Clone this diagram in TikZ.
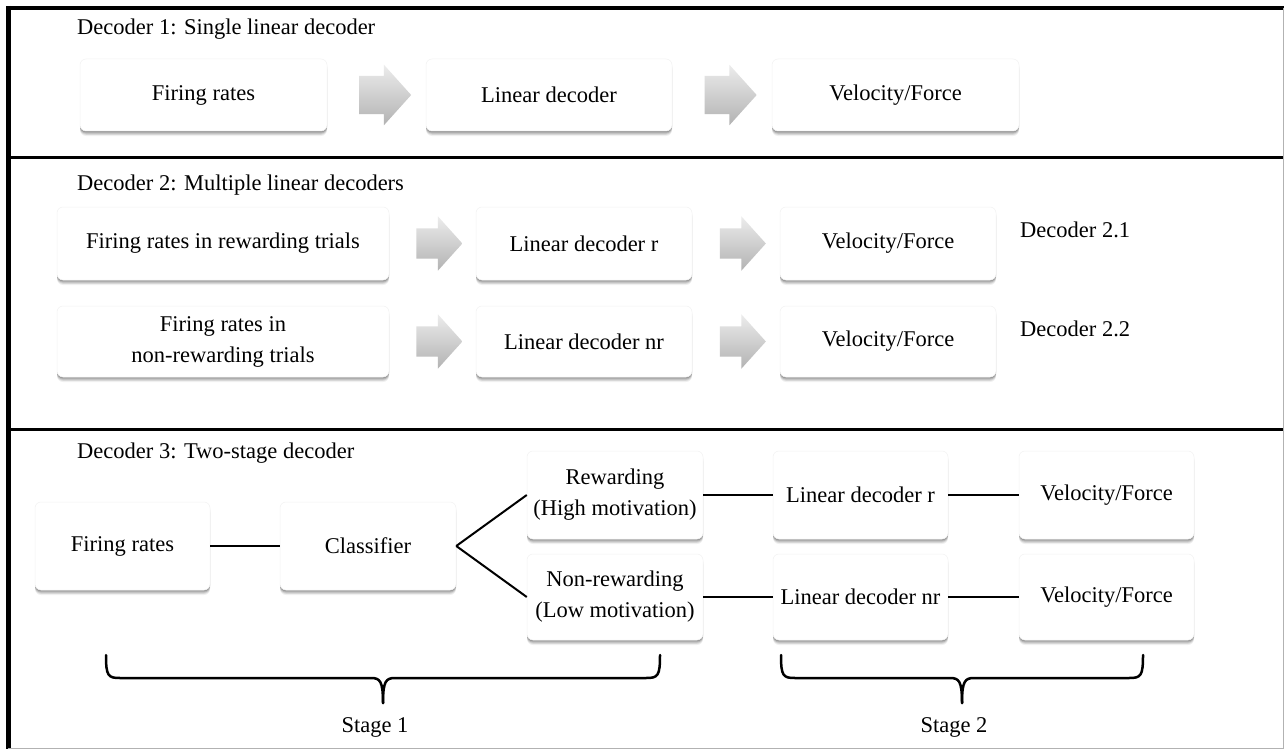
\documentclass[tikz,border=0pt]{standalone}
\usepackage{fontspec}
\setmainfont{Liberation Serif}
\usetikzlibrary{shapes.arrows,shadows,calc}
\newcommand\boxfont{\fontsize{22.5}{31}\selectfont}
\begin{document}
\begin{tikzpicture}[x=1pt,y=-1pt,
  box/.style={rectangle, rounded corners=6pt, fill=white, draw=gray!10, line width=0.5pt,
    drop shadow={shadow xshift=0pt, shadow yshift=-5pt, opacity=0.06, fill=black},
    drop shadow={shadow xshift=0pt, shadow yshift=-3.8pt, opacity=0.10, fill=black},
    drop shadow={shadow xshift=0pt, shadow yshift=-2.6pt, opacity=0.14, fill=black},
    drop shadow={shadow xshift=0pt, shadow yshift=-1.4pt, opacity=0.16, fill=black},
    align=center, font=\boxfont, inner sep=0pt},
  lbl/.style={font=\boxfont, inner sep=0pt, anchor=west},
  arrowA/.style={single arrow, draw=none, top color=gray!15, bottom color=gray!60,
    minimum height=52pt, inner xsep=0pt, inner ysep=19pt, single arrow head extend=11pt,
    single arrow tip angle=96, single arrow head indent=0pt},
  arrowB/.style={single arrow, draw=none, top color=gray!15, bottom color=gray!60,
    minimum height=46pt, inner xsep=0pt, inner ysep=15pt, single arrow head extend=12pt,
    single arrow tip angle=96, single arrow head indent=0pt},
  conn/.style={line width=2pt, black},
  bracestyle/.style={line width=2.5pt, black, line cap=round, line join=round},
  frame/.style={black}
]
\useasboundingbox (0,0) rectangle (1284,749);
\fill[white] (0,0) rectangle (1284,749);
% frame
\draw[frame, line width=4pt] (6,8) -- (1284,8);
\draw[frame, line width=5pt] (8,6) -- (8,749);
\draw[frame, line width=3pt] (8,157) -- (1284,157);
\draw[frame, line width=3pt] (8,429) -- (1284,429);
\draw[gray!60, line width=1pt] (1283,8) -- (1283,749);
\draw[gray!60, line width=1pt] (8,748) -- (1284,748);

% Decoder 1
\node[lbl] (t1) at (77,29) {Decoder 1: Single linear decoder};
\node[box, minimum width=247pt, minimum height=72pt] (d1a) at (203.5,95) {Firing rates};
\node[box, minimum width=246pt, minimum height=72pt] (d1b) at (549,95) {Linear decoder};
\node[box, minimum width=247pt, minimum height=72pt] (d1c) at (895.5,95) {Velocity/Force};
\node[arrowA] (a11) at ($(d1a.east)!0.5!(d1b.west)$) {};
\node[arrowA] (a12) at ($(d1b.east)!0.5!(d1c.west)$) {};

% Decoder 2
\node[lbl] (t2) at (77,185) {Decoder 2: Multiple linear decoders};
\node[box, minimum width=332pt, minimum height=73pt] (d2a) at (223,243.5) {Firing rates in rewarding trials};
\node[box, minimum width=216pt, minimum height=73pt] (d2b) at (584,243.5) {Linear decoder r};
\node[box, minimum width=216pt, minimum height=73pt] (d2c) at (888,243.5) {Velocity/Force};
\node[lbl] (t21) at (1020,230) {Decoder 2.1};
\node[arrowB] (a21) at ($(d2a.east)!0.5!(d2b.west)$) {};
\node[arrowB] (a22) at ($(d2b.east)!0.5!(d2c.west)$) {};

\node[box, minimum width=332pt, minimum height=71pt] (d2d) at (223,341.5) {Firing rates in\\non-rewarding trials};
\node[box, minimum width=216pt, minimum height=71pt] (d2e) at (584,341.5) {Linear decoder nr};
\node[box, minimum width=216pt, minimum height=71pt] (d2f) at (888,341.5) {Velocity/Force};
\node[lbl] (t22) at (1020,329) {Decoder 2.2};
\node[arrowB] (a23) at ($(d2d.east)!0.5!(d2e.west)$) {};
\node[arrowB] (a24) at ($(d2e.east)!0.5!(d2f.west)$) {};

% Decoder 3
\node[lbl] (t3) at (77,453) {Decoder 3: Two-stage decoder};
\node[box, minimum width=175pt, minimum height=88pt] (fr) at (122.5,546) {Firing rates};
\node[box, minimum width=176pt, minimum height=88pt] (cl) at (368,546) {Classifier};
\node[box, minimum width=176pt, minimum height=88pt] (rw) at (615,495) {Rewarding\\(High motivation)};
\node[box, minimum width=176pt, minimum height=86pt] (nrw) at (615,597) {Non-rewarding\\(Low motivation)};
\node[box, minimum width=175pt, minimum height=88pt] (ldr) at (860.5,495) {Linear decoder r};
\node[box, minimum width=175pt, minimum height=86pt] (ldnr) at (860.5,597) {Linear decoder nr};
\node[box, minimum width=175pt, minimum height=88pt] (vf1) at (1106.5,495) {Velocity/Force};
\node[box, minimum width=175pt, minimum height=86pt] (vf2) at (1106.5,597) {Velocity/Force};

\draw[conn] (fr.east) -- (cl.west);
\draw[conn] (cl.east) -- (rw.west);
\draw[conn] (cl.east) -- (nrw.west);
\draw[conn] (rw.east) -- (ldr.west);
\draw[conn] (ldr.east) -- (vf1.west);
\draw[conn] (nrw.east) -- (ldnr.west);
\draw[conn] (ldnr.east) -- (vf2.west);

% braces
\coordinate (b1l) at (106,655);
\coordinate (b1r) at (660,655);
\coordinate (b1m) at (383,703);
\draw[bracestyle] (b1l) .. controls (106,676) and (108,678) .. (120,678) -- (371,678)
  .. controls (380,678) and (383,681) .. (b1m);
\draw[bracestyle] (b1r) .. controls (660,676) and (658,678) .. (646,678) -- (395,678)
  .. controls (386,678) and (383,681) .. (b1m);
\node[font=\boxfont, inner sep=0pt] (s1) at (375,727) {Stage 1};

\coordinate (b2l) at (781,655);
\coordinate (b2r) at (1143,655);
\coordinate (b2m) at (962,703);
\draw[bracestyle] (b2l) .. controls (781,676) and (783,678) .. (795,678) -- (950,678)
  .. controls (959,678) and (962,681) .. (b2m);
\draw[bracestyle] (b2r) .. controls (1143,676) and (1141,678) .. (1129,678) -- (974,678)
  .. controls (965,678) and (962,681) .. (b2m);
\node[font=\boxfont, inner sep=0pt] (s2) at (954,727) {Stage 2};
\end{tikzpicture}
\end{document}
